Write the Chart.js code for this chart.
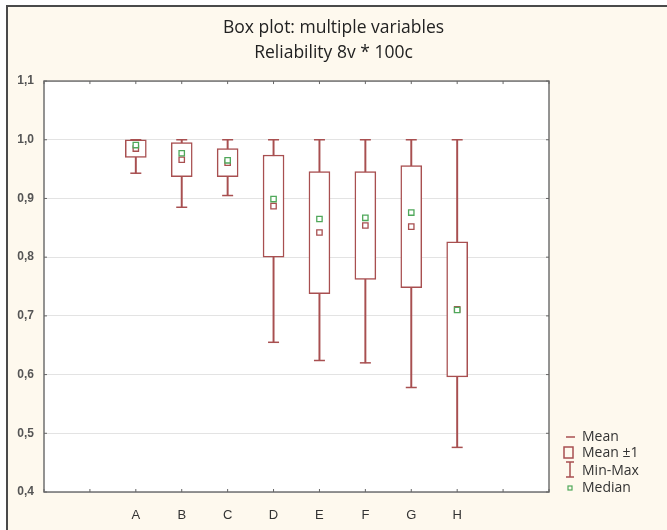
<!DOCTYPE html>
<html>
<head>
<meta charset="utf-8">
<script src="https://cdn.jsdelivr.net/npm/chart.js@4.4.1/dist/chart.umd.min.js"></script>
<style>
  html, body { margin: 0; padding: 0; background: #fff; }
  #frame {
    position: absolute; left: 6px; top: 5px; width: 661px; height: 525px;
    background: #fef9ee; border-left: 2px solid #4a4a4a; border-top: 2px solid #4a4a4a;
    box-sizing: border-box;
  }
  #wrap { position: absolute; left: 0; top: 0; width: 667px; height: 530px; }
</style>
</head>
<body>
<div id="frame"></div>
<div id="wrap"><canvas id="boxPlot" width="667" height="530"></canvas></div>
<script>
var categories = ["A", "B", "C", "D", "E", "F", "G", "H"];
var means   = [0.985, 0.966, 0.961, 0.887, 0.842, 0.854, 0.852, 0.711];
var sds     = [0.015, 0.029, 0.024, 0.087, 0.104, 0.092, 0.104, 0.115];
var mins    = [0.943, 0.885, 0.905, 0.655, 0.624, 0.620, 0.578, 0.476];
var maxs    = [1.000, 1.000, 1.000, 1.000, 1.000, 1.000, 1.000, 1.000];
var medians = [0.991, 0.977, 0.965, 0.899, 0.865, 0.867, 0.876, 0.710];
var legendLabels = ["Mean", "Mean \u00b11", "Min-Max", "Median"];

var Red = "#a84f50";
var Green = "#4fa85a";
var firstPos = 2; // categories sit at x = 2..9 on a 0..11 axis

var xs = categories.map(function (c, i) { return firstPos + i; });

var ctx = document.getElementById("boxPlot");

var framePlugin = {
    id: "frame",
    beforeDraw: function (chart) {
        var a = chart.chartArea, c = chart.ctx;
        c.save();
        c.fillStyle = "#fff";
        c.fillRect(a.left, a.top, a.right - a.left, a.bottom - a.top);
        c.restore();
    },
    afterDraw: function (chart) {
        var a = chart.chartArea, c = chart.ctx;
        var sx = chart.scales.x, sy = chart.scales.y;
        c.save();
        c.strokeStyle = "#707070";
        c.lineWidth = 1.5;
        c.strokeRect(a.left, a.top, a.right - a.left, a.bottom - a.top);
        c.strokeStyle = "#666";
        c.lineWidth = 1;
        c.beginPath();
        sx.ticks.forEach(function (t) {
            var px = sx.getPixelForValue(t.value);
            c.moveTo(px, a.bottom); c.lineTo(px, a.bottom - 3);
            c.moveTo(px, a.top); c.lineTo(px, a.top + 3);
        });
        sy.ticks.forEach(function (t) {
            var py = sy.getPixelForValue(t.value);
            c.moveTo(a.left, py); c.lineTo(a.left + 3, py);
            c.moveTo(a.right, py); c.lineTo(a.right - 3, py);
        });
        c.stroke();

        // legend
        c.font = "14px 'Open Sans'";
        c.fillStyle = "#333";
        c.textBaseline = "middle";
        var tx = 582, rows = [437, 453, 471, 488];
        legendLabels.forEach(function (t, i) { c.fillText(t, tx, rows[i]); });
        c.strokeStyle = Red;
        c.lineWidth = 1.5;
        c.beginPath();
        c.moveTo(566, rows[0]); c.lineTo(575, rows[0]);
        c.stroke();
        c.strokeRect(564, 447, 9, 11);
        c.beginPath();
        c.moveTo(570, 462); c.lineTo(570, 477);
        c.moveTo(566, 462); c.lineTo(574, 462);
        c.moveTo(566, 477); c.lineTo(574, 477);
        c.stroke();
        c.strokeStyle = Green;
        c.lineWidth = 1.2;
        c.strokeRect(568, rows[3] - 2, 4, 4);
        c.restore();
    }
};

var chart = new Chart(ctx, {
    type: "bar",
    plugins: [framePlugin],
    data: {
        datasets: [
            {
                type: "scatter",
                order: 0,
                data: xs.map(function (x, i) { return { x: x, y: medians[i] }; }),
                pointStyle: "rect",
                pointRadius: 3.8,
                borderWidth: 1.3,
                borderColor: Green,
                backgroundColor: "#fff"
            },
            {
                type: "scatter",
                order: 1,
                data: xs.map(function (x, i) { return { x: x, y: means[i] }; }),
                pointStyle: "rect",
                pointRadius: 3.8,
                borderWidth: 1.3,
                borderColor: Red,
                backgroundColor: "#fff"
            },
            {
                type: "scatter",
                order: 2,
                data: xs.map(function (x, i) { return { x: x, y: mins[i] }; })
                    .concat(xs.map(function (x, i) { return { x: x, y: maxs[i] }; })),
                pointStyle: "line",
                pointRadius: 5.5,
                borderWidth: 1.5,
                borderColor: Red
            },
            {
                order: 3,
                grouped: false,
                data: xs.map(function (x, i) { return { x: x, y: [means[i] - sds[i], means[i] + sds[i]] }; }),
                barThickness: 21,
                backgroundColor: "#fff",
                borderColor: Red,
                borderWidth: 1.5,
                borderSkipped: false
            },
            {
                order: 4,
                grouped: false,
                data: xs.map(function (x, i) { return { x: x, y: [mins[i], maxs[i]] }; }),
                barThickness: 1.3,
                backgroundColor: Red,
                borderWidth: 0
            }
        ]
    },
    options: {
        responsive: false,
        animation: false,
        events: [],
        layout: { padding: 0 },
        plugins: {
            legend: { display: false },
            tooltip: { enabled: false },
            title: {
                display: true,
                text: ["Box plot: multiple variables", "Reliability 8v * 100c"],
                color: "#222",
                font: { family: "Open Sans", size: 17.5, weight: "normal", lineHeight: 1.43 },
                padding: { top: 15.5, bottom: 15.5 }
            }
        },
        scales: {
            x: {
                type: "linear",
                min: 0,
                max: 11,
                offset: false,
                grid: { display: false, offset: false },
                border: { display: false },
                ticks: {
                    stepSize: 1,
                    padding: 8,
                    color: "#333",
                    font: { family: "Liberation Sans", size: 13 },
                    maxRotation: 0,
                    callback: function (v) {
                        var i = v - firstPos;
                        return (i >= 0 && i < categories.length) ? categories[i] : "";
                    }
                },
                afterFit: function (s) { s.height = 38; }
            },
            y: {
                min: 0.4,
                max: 1.1,
                grid: { color: "#e3e3e3", drawTicks: false },
                border: { display: false },
                ticks: {
                    stepSize: 0.1,
                    padding: 10,
                    color: "#555",
                    font: { family: "Liberation Sans", size: 12, weight: "bold" },
                    callback: function (v) { return v.toFixed(1).replace(".", ","); }
                },
                afterFit: function (s) { s.width = 44; }
            },
            yRight: {
                type: "linear",
                position: "right",
                grid: { display: false },
                border: { display: false },
                ticks: { display: false },
                afterFit: function (s) { s.width = 118; }
            }
        }
    }
});
</script>
</body>
</html>
